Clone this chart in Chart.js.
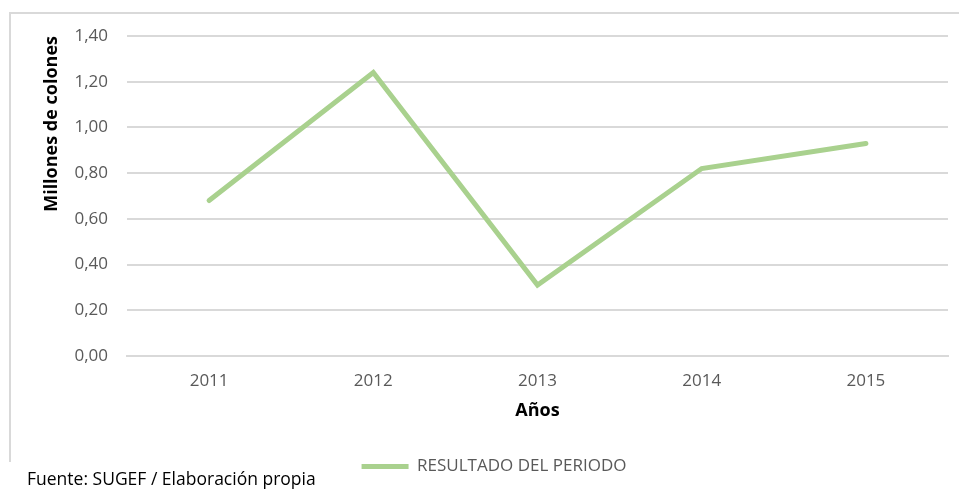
<!DOCTYPE html>
<html>
<head>
<meta charset="utf-8">
<script src="https://cdn.jsdelivr.net/npm/chart.js@4/dist/chart.umd.min.js"></script>
<style>
  html, body { margin: 0; padding: 0; background: #fff; }
  #wrap { position: relative; width: 959px; height: 490px; }
  #marco { position: absolute; left: 9px; top: 12px; width: 960px; height: 448px;
           border-top: 2px solid #d9d9d9; border-left: 2px solid #d9d9d9; }
  #fuente { position: absolute; left: 27px; top: 466px; font: 17.5px "Open Sans", sans-serif; color: #000; }
</style>
</head>
<body>
<div id="wrap">
  <div id="marco"></div>
  <canvas id="grafico" width="959" height="490"></canvas>
  <div id="fuente">Fuente: SUGEF / Elaboración propia</div>
</div>
<script>
// Datos del gráfico
const anios = ["2011", "2012", "2013", "2014", "2015"];
const resultado = [0.68, 1.24, 0.31, 0.82, 0.93];
const serieNombre = "RESULTADO DEL PERIODO";

const verde = "#a9d18e";
const gris = "#595959";

const ctx = document.getElementById("grafico").getContext("2d");
const grafico = new Chart(ctx, {
  type: 'line',
  data: {
    labels: anios,
    datasets: [{
      label: serieNombre,
      data: resultado,
      borderColor: verde,
      backgroundColor: verde,
      borderWidth: 5,
      borderCapStyle: 'round',
      borderJoinStyle: 'miter',
      pointRadius: 0,
      tension: 0,
      fill: false
    }]
  },
  options: {
    responsive: false,
    animation: false,
    layout: { padding: { left: 40, right: 11, top: 36, bottom: 5 } },
    plugins: {
      tooltip: { enabled: false },
      legend: {
        position: 'bottom',
        labels: {
          color: gris,
          font: { family: "Open Sans", size: 17 },
          boxWidth: 47,
          boxHeight: 5,
          padding: 4,
          generateLabels(chart) {
            const items = Chart.defaults.plugins.legend.labels.generateLabels(chart);
            items.forEach(it => { it.lineWidth = 0; it.fillStyle = verde; });
            return items;
          }
        }
      }
    },
    scales: {
      x: {
        offset: true,
        grid: { display: false, drawTicks: false },
        border: { display: true, color: "#d9d9d9", width: 2 },
        ticks: { color: gris, font: { family: "Open Sans", size: 17 }, padding: 15 },
        title: {
          display: true, text: "Años", color: "#000",
          font: { family: "Open Sans", size: 18, weight: 'bold' },
          padding: { top: 0, bottom: 32 }
        },
        afterFit(scale) { scale.height = 98; }
      },
      y: {
        min: 0,
        max: 1.4,
        grid: { color: "#d9d9d9", lineWidth: 2, drawTicks: false },
        border: { display: false },
        ticks: {
          stepSize: 0.2,
          color: gris,
          font: { family: "Open Sans", size: 17 },
          padding: 19,
          callback: v => v.toFixed(2).replace('.', ',')
        },
        title: {
          display: true, text: "Millones de colones", color: "#000", align: 'end',
          font: { family: "Open Sans", size: 18, weight: 'bold' },
          padding: { top: 1, bottom: 0 }
        },
        afterFit(scale) { scale.width = 87; }
      }
    }
  }
});
</script>
</body>
</html>
